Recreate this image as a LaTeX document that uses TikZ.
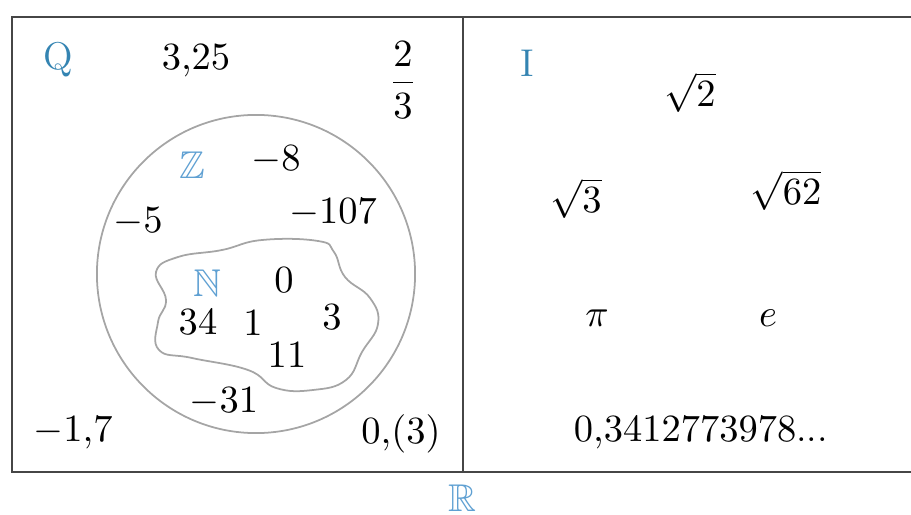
\documentclass[tikz,border=0pt]{standalone}
\usepackage{amsmath,amssymb}
\definecolor{setblue}{RGB}{52,132,178}
\definecolor{bbblue}{RGB}{95,160,210}
\definecolor{setgray}{RGB}{165,165,165}
\definecolor{framegray}{RGB}{70,70,70}
\tikzset{
  num/.style={font=\fontsize{11}{13}\selectfont, inner sep=1pt},
  setname/.style={num, text=setblue},
  bbname/.style={num, text=bbblue},
  frame/.style={draw=framegray, line width=0.8pt},
  border/.style={draw=setgray, line width=0.5pt}
}
\begin{document}
\begin{tikzpicture}[x=0.01cm, y=-0.01cm]
    \useasboundingbox (0,0) rectangle (911,515);

    % Frame
    \draw[frame] (925,17) -- (12,17) -- (12,472) -- (925,472);
    \draw[frame] (463,17) -- (463,472);

    % Sets Z and N
    \draw[border] (256,274) circle[radius=1.59cm];
    \draw[border] plot[smooth cycle, tension=0.75] coordinates {
        (156,272) (178,257) (222,250) (262,240) (318,241) (334,252)
        (345,277) (370,298) (378,324) (362,352) (346,380) (313,390)
        (276,388) (248,370) (192,358) (159,350) (158,322) (166,300)};

    % Rationals
    \node[setname] (q) at (58,60) {Q};
    \node[num] (q1) at (196,61) {$3{,}25$};
    \node[num] (q2) at (403,80) {$\dfrac{2}{3}$};
    \node[num] (q3) at (73,433) {$-1{,}7$};
    \node[num] (q4) at (401,434) {$0{,}(3)$};

    % Integers
    \node[bbname] (z) at (192,165) {$\mathbb{Z}$};
    \node[num] (z1) at (276,160) {$-8$};
    \node[num] (z2) at (333,213) {$-107$};
    \node[num] (z3) at (138,222) {$-5$};
    \node[num] (z4) at (224,402) {$-31$};

    % Naturals
    \node[bbname] (n) at (207,283) {$\mathbb{N}$};
    \node[num] (n1) at (284,280) {$0$};
    \node[num] (n2) at (198,322) {$34$};
    \node[num] (n3) at (253,323) {$1$};
    \node[num] (n4) at (332,317) {$3$};
    \node[num] (n5) at (287,355) {$11$};

    % Irrationals
    \node[setname] (i) at (527,63) {I};
    \node[num] (i1) at (690,92) {$\sqrt{2}$};
    \node[num] (i2) at (576,198) {$\sqrt{3}$};
    \node[num] (i3) at (786,190) {$\sqrt{62}$};
    \node[num] (i4) at (597,318) {$\pi$};
    \node[num] (i5) at (768,318) {$e$};
    \node[num] (i6) at (701,433) {$0{,}3412773978$...};

    % Reals
    \node[bbname] (r) at (462,498) {$\mathbb{R}$};
\end{tikzpicture}
\end{document}
